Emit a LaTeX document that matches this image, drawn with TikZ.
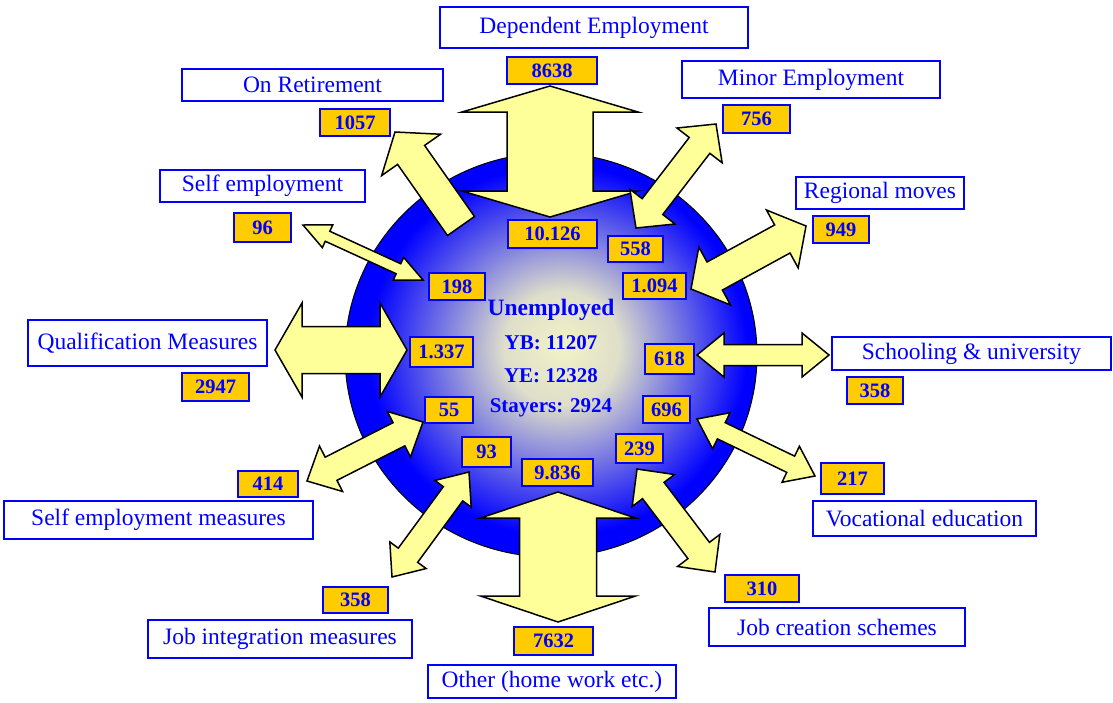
\documentclass[tikz,border=0pt]{standalone}
\usepackage{fontspec}
\setmainfont{Liberation Serif}
\usepackage{tikz}
\usetikzlibrary{calc,shapes.geometric}
\definecolor{flowfill}{HTML}{FFFF99}
\definecolor{countfill}{HTML}{FFCC00}
\definecolor{poolcore}{HTML}{F2F2C6}
\pgfdeclareradialshading{poolshade}{\pgfpoint{1.5bp}{1bp}}{%
  color(0bp)=(poolcore); color(7bp)=(poolcore!92!blue); color(23bp)=(blue); color(25bp)=(blue); color(50bp)=(blue)}
\tikzset{
destbox/.style={draw=blue, line width=1.5pt, fill=white, text=blue, inner sep=0pt, font=\fontsize{23.5}{28}\selectfont}, % white label boxes
countbox/.style={draw=blue, line width=1.5pt, fill=countfill, text=blue, inner sep=0pt, font=\bfseries\fontsize{20.5}{24}\selectfont}, % orange counts
boxsize/.style 2 args={minimum width=#1pt, minimum height=#2pt},
flowarrow/.style={draw=black, line width=1.5pt, fill=flowfill, line join=miter},
pooltext/.style={text=blue, inner sep=0pt, font=\bfseries\fontsize{21}{25}\selectfont},
}
% #1,#2 tips, #3 half shaft, #4 half head, #5 head length
\newcommand{\twoway}[5]{%
  \draw[flowarrow] (#1)
    -- ($(#1)!#5!(#2)!#4!90:(#2)$) -- ($(#1)!#5!(#2)!#3!90:(#2)$)
    -- ($(#2)!#5!(#1)!#3!-90:(#1)$) -- ($(#2)!#5!(#1)!#4!-90:(#1)$)
    -- (#2)
    -- ($(#2)!#5!(#1)!#4!90:(#1)$) -- ($(#2)!#5!(#1)!#3!90:(#1)$)
    -- ($(#1)!#5!(#2)!#3!-90:(#2)$) -- ($(#1)!#5!(#2)!#4!-90:(#2)$)
    -- cycle;}
% #1 base, #2 tip
\newcommand{\oneway}[5]{%
  \draw[flowarrow] ($(#1)!#3!90:(#2)$)
    -- ($(#2)!#5!(#1)!#3!-90:(#1)$) -- ($(#2)!#5!(#1)!#4!-90:(#1)$)
    -- (#2)
    -- ($(#2)!#5!(#1)!#4!90:(#1)$) -- ($(#2)!#5!(#1)!#3!90:(#1)$)
    -- ($(#1)!#3!-90:(#2)$) -- cycle;}

\begin{document}
\begin{tikzpicture}[x=1pt,y=-1pt]
   \useasboundingbox (0,0) rectangle (1113,702);
   % the pool of unemployed
   \node[ellipse, draw=black, line width=1pt, shading=poolshade, minimum width=412pt, minimum height=404pt, inner sep=0pt] (pool) at (551,355) {};
   \node[pooltext, font=\bfseries\fontsize{23.5}{28}\selectfont] (title) at (551,310) {Unemployed};
   \node[pooltext] (yb) at (551,343) {YB: 11207};
   \node[pooltext] (ye) at (551,376) {YE: 12328};
   \node[pooltext] (stay) at (551,408) {Stayers: 2924};

   % arrow ends
   \coordinate (depA) at (550,217);  \coordinate (depB) at (550,86);
   \coordinate (othA) at (558,492);  \coordinate (othB) at (558,622);
   \coordinate (qualA) at (407,350); \coordinate (qualB) at (275,350);
   \coordinate (schA) at (697,355);  \coordinate (schB) at (829,355);
   \coordinate (retA) at (461,226);  \coordinate (retB) at (395,132);
   \coordinate (minA) at (636,228);  \coordinate (minB) at (716,124);
   \coordinate (seA) at (423,280);   \coordinate (seB) at (303,225);
   \coordinate (regA) at (691,289);  \coordinate (regB) at (806,226);
   \coordinate (smA) at (423,422);   \coordinate (smB) at (307,481);
   \coordinate (vocA) at (697,419);  \coordinate (vocB) at (815,476);
   \coordinate (jiA) at (469,472);   \coordinate (jiB) at (392,577);
   \coordinate (jcA) at (637,469);   \coordinate (jcB) at (715,572);

   \twoway{depA}{depB}{43pt}{88pt}{26pt}
   \twoway{othA}{othB}{38.5pt}{77.5pt}{26pt}
   \twoway{qualA}{qualB}{23.5pt}{47pt}{27pt}
   \twoway{schA}{schB}{10.5pt}{22pt}{27pt}
   \oneway{retA}{retB}{16.5pt}{36pt}{28pt}
   \twoway{minA}{minB}{13pt}{28.5pt}{27pt}
   \twoway{seA}{seB}{5.5pt}{12.5pt}{27pt}
   \twoway{regA}{regB}{16pt}{33pt}{27pt}
   \twoway{smA}{smB}{13pt}{25.5pt}{27pt}
   \twoway{vocA}{vocB}{9pt}{20pt}{27pt}
   \twoway{jiA}{jiB}{12pt}{22.5pt}{27pt}
   \twoway{jcA}{jcB}{13.5pt}{26.5pt}{27pt}

   % destinations
   \node[destbox, boxsize={308}{41}] (dep) at (594,27.5) {Dependent Employment};
   \node[destbox, boxsize={258}{37}] (minor) at (811,79.5) {Minor Employment};
   \node[destbox, boxsize={261}{32}] (retire) at (312.5,85) {On Retirement};
   \node[destbox, boxsize={205}{32}] (selfemp) at (262.5,186) {Self employment};
   \node[destbox, boxsize={168}{32}] (regional) at (880,193) {Regional moves};
   \node[destbox, boxsize={239}{46}] (qual) at (147.5,343) {Qualification Measures};
   \node[destbox, boxsize={279}{33}] (school) at (971.5,353.5) {Schooling \& university};
   \node[destbox, boxsize={309}{38}] (selfmeas) at (158.5,520) {Self employment measures};
   \node[destbox, boxsize={223}{35}] (voc) at (924.5,518.5) {Vocational education};
   \node[destbox, boxsize={264}{38}] (jobint) at (280,639) {Job integration measures};
   \node[destbox, boxsize={256}{38}] (jobcre) at (837,627) {Job creation schemes};
   \node[destbox, boxsize={248}{33}] (other) at (552,681.5) {Other (home work etc.)};

   % counts
   \node[countbox, boxsize={90}{27}] (n8638) at (552,70.5) {8638};
   \node[countbox, boxsize={67}{28}] (n756) at (756.5,119) {756};
   \node[countbox, boxsize={70}{27}] (n1057) at (355,122.5) {1057};
   \node[countbox, boxsize={57}{29}] (n96) at (262.5,227.5) {96};
   \node[countbox, boxsize={56}{27}] (n949) at (841,229.5) {949};
   \node[countbox, boxsize={89}{28}] (n10126) at (552.5,234) {10.126};
   \node[countbox, boxsize={55}{26}] (n558) at (635.5,249) {558};
   \node[countbox, boxsize={63}{26}] (n1094) at (654.5,286) {1.094};
   \node[countbox, boxsize={56}{27}] (n198) at (457,286.5) {198};
   \node[countbox, boxsize={63}{30}] (n1337) at (441.5,352) {1.337};
   \node[countbox, boxsize={49}{30}] (n618) at (669.5,359) {618};
   \node[countbox, boxsize={67}{28}] (n2947) at (215.5,387) {2947};
   \node[countbox, boxsize={56}{27}] (n358s) at (875,390.5) {358};
   \node[countbox, boxsize={48}{26}] (n55) at (449,410) {55};
   \node[countbox, boxsize={47}{27}] (n696) at (666.5,409.5) {696};
   \node[countbox, boxsize={49}{30}] (n93) at (486.5,452) {93};
   \node[countbox, boxsize={47}{29}] (n239) at (639.5,448.5) {239};
   \node[countbox, boxsize={71}{27}] (n9836) at (557.5,472.5) {9.836};
   \node[countbox, boxsize={63}{31}] (n217) at (852.5,478.5) {217};
   \node[countbox, boxsize={60}{26}] (n414) at (268,484) {414};
   \node[countbox, boxsize={65}{26}] (n358j) at (355.5,600) {358};
   \node[countbox, boxsize={74}{27}] (n310) at (762,588.5) {310};
   \node[countbox, boxsize={79}{28}] (n7632) at (553.5,641) {7632};
\end{tikzpicture}
\end{document}
